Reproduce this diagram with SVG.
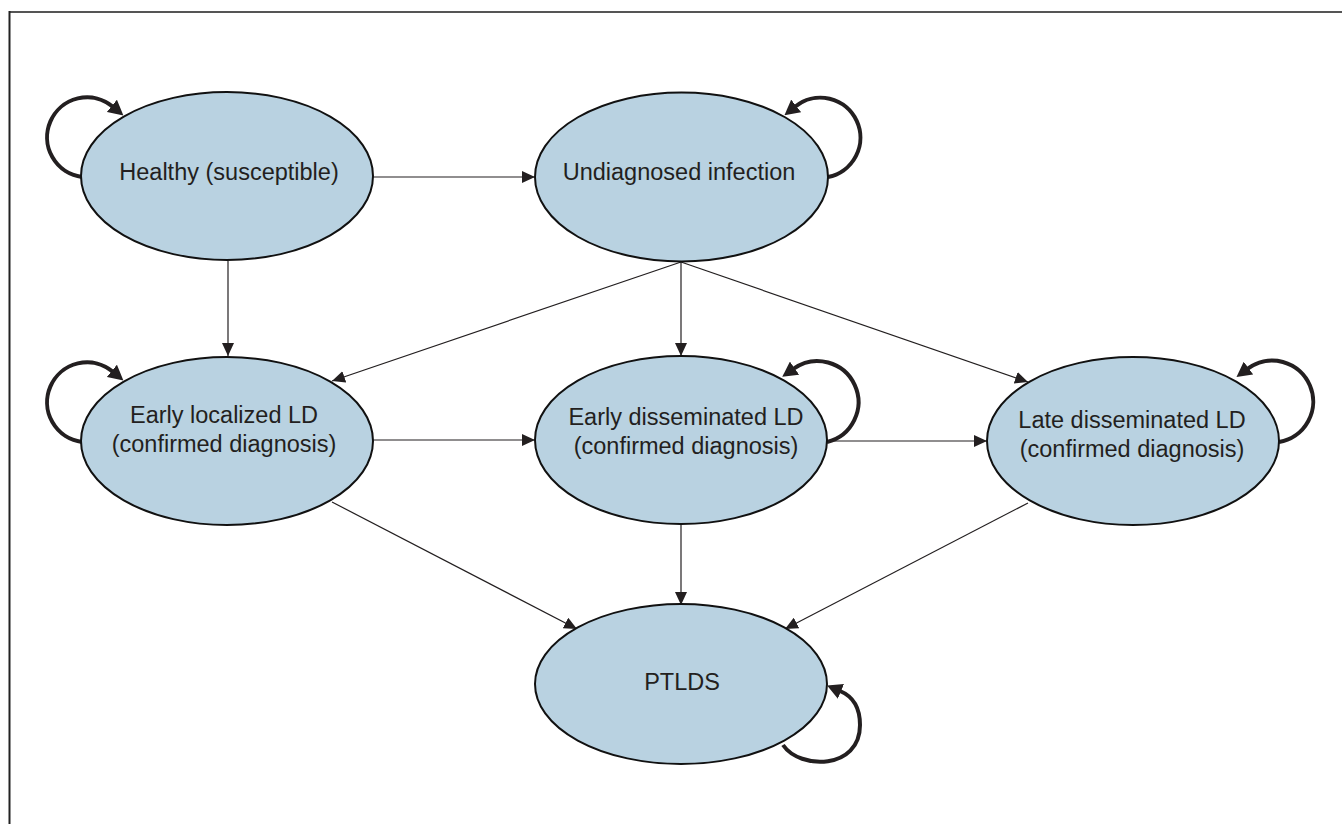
<svg xmlns="http://www.w3.org/2000/svg" width="1342" height="824" viewBox="0 0 1342 824">
<style>
.node ellipse{fill:#b9d2e1;stroke:#111;stroke-width:2}
.node text{font-family:"Liberation Sans",Arial,sans-serif;font-size:23.5px;fill:#231f20;text-anchor:middle}
.edge{stroke:#231f20;stroke-width:1.2;fill:none;marker-end:url(#ah)}
.loop{stroke:#231f20;stroke-width:4;fill:none;marker-end:url(#ahb)}
</style>
<defs>
<marker id="ah" viewBox="0 0 13 12" refX="13" refY="6" markerWidth="13" markerHeight="12" markerUnits="userSpaceOnUse" orient="auto">
<path d="M0,0 L13,6 L0,12 z" fill="#231f20"/>
</marker>
<marker id="ahb" viewBox="0 0 15 16" refX="1" refY="8" markerWidth="15" markerHeight="16" markerUnits="userSpaceOnUse" orient="auto">
<path d="M0,0 L15,8 L0,16 z" fill="#231f20"/>
</marker>
</defs>
<rect x="0" y="0" width="1342" height="824" fill="#ffffff"/>
<line x1="9" y1="12" x2="1342" y2="12" stroke="#555" stroke-width="2"/>
<line x1="9.5" y1="11" x2="9.5" y2="824" stroke="#222" stroke-width="2"/>
<g id="connectors">
<path class="edge" d="M373,177 L535,177"/>
<path class="edge" d="M228,261 L228,356"/>
<path class="edge" d="M681,262 L332,381"/>
<path class="edge" d="M681,262 L681,356"/>
<path class="edge" d="M681,262 L1028,382"/>
<path class="edge" d="M373,440 L535,440"/>
<path class="edge" d="M827,441 L987,441"/>
<path class="edge" d="M332,502 L577,629"/>
<path class="edge" d="M681,524 L681,605"/>
<path class="edge" d="M1028,503 L785,629"/>
<path class="loop" d="M82,177 A40,40 0 1 1 112.6,106.5"/>
<path class="loop" d="M828,177 A40,40 0 1 0 795.4,106.5"/>
<path class="loop" d="M82,442 A40,40 0 1 1 112.6,371.5"/>
<path class="loop" d="M827,442 A41,41 0 1 0 793.7,368.7"/>
<path class="loop" d="M1279,442 A41,41 0 1 0 1247.7,368.7"/>
<path class="loop" d="M783,745 C800,770 860,770 860,725 C860,706 852,696 840,691"/>
</g>
<g id="healthy" class="node">
<ellipse cx="227" cy="176" rx="146" ry="84"/>
<text x="229" y="180">Healthy (susceptible)</text>
</g>
<g id="undiagnosed" class="node">
<ellipse cx="681.5" cy="177" rx="146.5" ry="84.5"/>
<text x="679" y="180">Undiagnosed infection</text>
</g>
<g id="early-localized" class="node">
<ellipse cx="227" cy="441" rx="146" ry="84"/>
<text x="224" y="423">Early localized LD</text>
<text x="224" y="452">(confirmed diagnosis)</text>
</g>
<g id="early-disseminated" class="node">
<ellipse cx="681" cy="440" rx="146" ry="84"/>
<text x="686" y="425">Early disseminated LD</text>
<text x="686" y="454">(confirmed diagnosis)</text>
</g>
<g id="late-disseminated" class="node">
<ellipse cx="1133" cy="441" rx="146" ry="84"/>
<text x="1132" y="428">Late disseminated LD</text>
<text x="1132" y="457">(confirmed diagnosis)</text>
</g>
<g id="ptlds" class="node">
<ellipse cx="681" cy="684" rx="146" ry="80"/>
<text x="682" y="690">PTLDS</text>
</g>
</svg>
